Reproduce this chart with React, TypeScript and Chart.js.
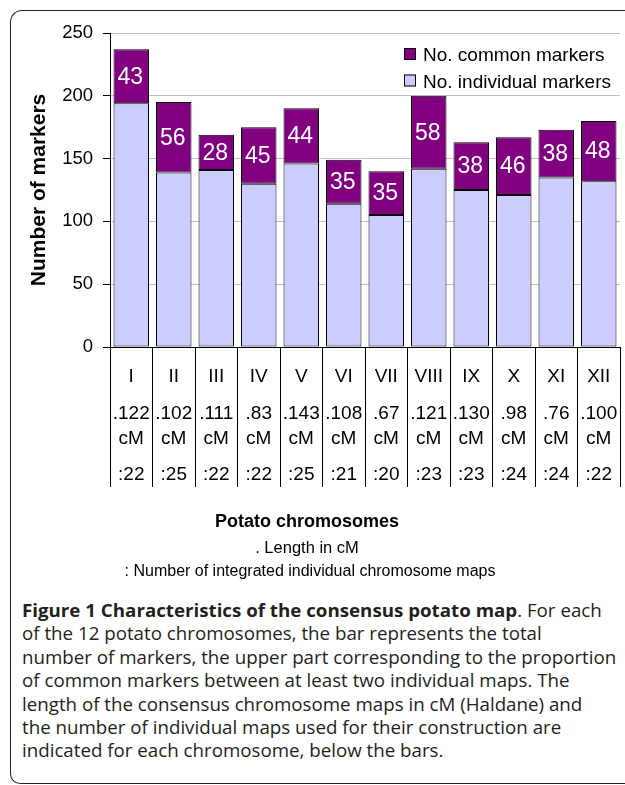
import React, { useEffect, useRef } from 'react';
import { Chart, registerables } from 'chart.js';

Chart.register(...registerables);

const FONT = '"Liberation Sans", Arial, sans-serif';

const categories = ['I', 'II', 'III', 'IV', 'V', 'VI', 'VII', 'VIII', 'IX', 'X', 'XI', 'XII'];
const individualMarkers = [194, 139, 141, 130, 146, 114, 105, 142, 125, 121, 135, 132];
const commonMarkers = [43, 56, 28, 45, 44, 35, 35, 58, 38, 46, 38, 48];
const lengthsCM = ['.122', '.102', '.111', '.83', '.143', '.108', '.67', '.121', '.130', '.98', '.76', '.100'];
const mapCounts = [':22', ':25', ':22', ':22', ':25', ':21', ':20', ':23', ':23', ':24', ':24', ':22'];
const yTicks = { min: 0, max: 250, step: 50 };

const COLOR_INDIV = '#ccccff';
const COLOR_COMMON = '#800080';

const barLabelPlugin = {
  id: 'barLabels',
  afterDatasetsDraw(chart: any) {
    const { ctx } = chart;
    const meta = chart.getDatasetMeta(1);
    ctx.save();
    ctx.fillStyle = '#ffffff';
    ctx.font = `23px ${FONT}`;
    ctx.textAlign = 'center';
    ctx.textBaseline = 'middle';
    meta.data.forEach((el: any, i: number) => {
      const { x, y, base } = el.getProps(['x', 'y', 'base'], true);
      ctx.fillText(String(commonMarkers[i]), x - 1, (y + base) / 2 + 1);
    });
    ctx.restore();
  },
};

const tablePlugin = {
  id: 'tableText',
  afterDraw(chart: any) {
    const { ctx, chartArea, scales } = chart;
    const x = scales.x;
    const b = chartArea.bottom;
    ctx.save();
    ctx.fillStyle = '#000';
    ctx.textAlign = 'center';
    ctx.textBaseline = 'alphabetic';
    ctx.font = `19px ${FONT}`;
    categories.forEach((c, i) => {
      const px = x.getPixelForValue(i);
      ctx.fillText(c, px, b + 35);
      ctx.fillText(lengthsCM[i], px, b + 71.5);
      ctx.fillText('cM', px, b + 96.5);
      ctx.fillText(mapCounts[i], px, b + 133);
    });
    // x title block
    const cx = 307;
    ctx.font = `bold 18px ${FONT}`;
    ctx.fillText('Potato chromosomes', cx, 527);
    ctx.font = `16.5px ${FONT}`;
    ctx.fillText('. Length in cM', cx, 552.5);
    ctx.font = `16px ${FONT}`;
    ctx.fillText(': Number of integrated individual chromosome maps', cx + 3, 576);

    // legend
    const items = [
      { label: 'No. common markers', color: COLOR_COMMON },
      { label: 'No. individual markers', color: COLOR_INDIV },
    ];
    const lx = chartArea.right - 216;
    ctx.textAlign = 'left';
    ctx.font = `19px ${FONT}`;
    items.forEach((it, k) => {
      const top = chartArea.top + 15 + k * 26.5;
      ctx.fillStyle = it.color;
      ctx.fillRect(lx, top, 12, 12);
      ctx.strokeStyle = '#000';
      ctx.lineWidth = 1;
      ctx.strokeRect(lx + 0.5, top + 0.5, 11, 11);
      ctx.fillStyle = '#000';
      ctx.fillText(it.label, lx + 19, top + 13);
    });
    ctx.restore();
  },
};

function ChartCanvas() {
  const ref = useRef<HTMLCanvasElement | null>(null);
  useEffect(() => {
    if (!ref.current) return;
    Chart.defaults.font.family = FONT;
    Chart.defaults.color = '#000';
    const chart = new Chart(ref.current, {
      type: 'bar',
      data: {
        labels: categories,
        datasets: [
          {
            label: 'No. individual markers',
            data: individualMarkers,
            backgroundColor: COLOR_INDIV,
            borderColor: '#000',
            borderWidth: 1,
            borderSkipped: false,
            barPercentage: 0.835,
            categoryPercentage: 1,
          },
          {
            label: 'No. common markers',
            data: commonMarkers,
            backgroundColor: COLOR_COMMON,
            borderColor: '#000',
            borderWidth: 1,
            borderSkipped: false,
            barPercentage: 0.835,
            categoryPercentage: 1,
          },
        ],
      },
      options: {
        responsive: false,
        animation: false,
        devicePixelRatio: 1,
        layout: { padding: { top: 33, right: 5, left: 0, bottom: 0 } },
        plugins: {
          legend: { display: false },
          tooltip: { enabled: false },
        },
        scales: {
          x: {
            stacked: true,
            offset: true,
            grid: {
              display: true,
              drawOnChartArea: false,
              drawTicks: true,
              tickLength: 140,
              color: '#000',
              lineWidth: 1,
              offset: true,
            },
            border: { display: true, color: '#000', width: 1 },
            ticks: { display: false },
            afterFit: (s: any) => {
              s.height = 243;
            },
          },
          y: {
            stacked: true,
            min: yTicks.min,
            max: yTicks.max,
            ticks: {
              stepSize: yTicks.step,
              padding: 10,
              font: { size: 18.5 },
              color: '#000',
            },
            grid: {
              color: (c: any) => (c.tick && c.tick.value === 0 ? '#000' : '#c0c0c0'),
              tickColor: '#000',
              tickLength: 7,
              lineWidth: 1,
            },
            border: { display: true, color: '#000', width: 1 },
            title: {
              display: true,
              text: 'Number of markers',
              font: { size: 21, weight: 'bold' },
              color: '#000',
              padding: { top: 27, bottom: 0 },
            },
            afterFit: (s: any) => {
              s.width = 110;
            },
          },
        },
      },
      plugins: [barLabelPlugin, tablePlugin],
    });
    return () => chart.destroy();
  }, []);
  return (
    <canvas
      ref={ref}
      width={625}
      height={590}
      style={{ position: 'absolute', left: 0, top: 0, width: 625, height: 590 }}
    />
  );
}

export default function App() {
  return (
    <div style={{ position: 'absolute', left: 0, top: 0, width: 625, height: 785, background: '#fff', overflow: 'hidden' }}>
      <div
        style={{
          position: 'absolute',
          left: 10,
          top: 10,
          width: 640,
          height: 772,
          borderLeft: '1.5px solid #222',
          borderTop: '1.5px solid #222',
          borderBottom: '1.5px solid #222',
          borderTopLeftRadius: 12,
          borderBottomLeftRadius: 10,
        }}
      />
      <ChartCanvas />
      <div
        style={{
          position: 'absolute',
          left: 22,
          top: 599,
          fontFamily: '"Open Sans", sans-serif',
          fontSize: 18,
          lineHeight: '23.4px',
          color: '#231f20',
          whiteSpace: 'nowrap',
          transform: 'scaleX(1.04)',
          transformOrigin: '0 0',
        }}
      >
        <b>Figure 1 Characteristics of the consensus potato map</b>. For each
        <br />
        of the 12 potato chromosomes, the bar represents the total
        <br />
        number of markers, the upper part corresponding to the proportion
        <br />
        of common markers between at least two individual maps. The
        <br />
        length of the consensus chromosome maps in cM (Haldane) and
        <br />
        the number of individual maps used for their construction are
        <br />
        indicated for each chromosome, below the bars.
      </div>
    </div>
  );
}
